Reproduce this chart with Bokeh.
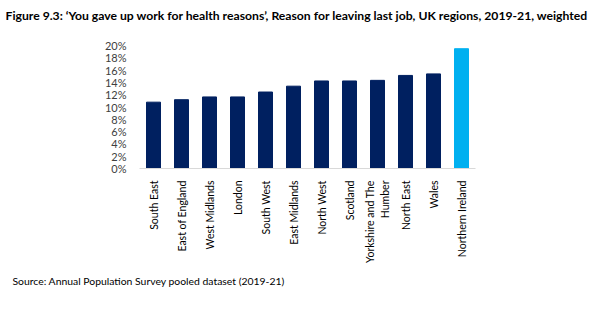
from bokeh.plotting import figure
from bokeh.models import Title, FactorRange, ColumnDataSource, NumeralTickFormatter, FixedTicker
from bokeh.embed import file_html
from bokeh.resources import INLINE
from math import pi

regions = ["South East", "East of England", "West Midlands", "London", "South West",
           "East Midlands", "North West", "Scotland", "Yorkshire and The\nHumber",
           "North East", "Wales", "Northern Ireland"]
share = [0.108, 0.112, 0.1165, 0.1165, 0.1245, 0.134, 0.1425, 0.1425, 0.1435,
         0.1515, 0.154, 0.195]
colors = ["#002060"] * 11 + ["#00B0F0"]
y_ticks = [0.0, 0.02, 0.04, 0.06, 0.08, 0.10, 0.12, 0.14, 0.16, 0.18, 0.20]

FONT = "Lato"

# frame geometry (pixels)
W, H = 602, 316
LEFT, RIGHT, TOP, BOTTOM = 139, 127, 39, 148

src = ColumnDataSource(dict(region=regions, share=share, color=colors))

p = figure(width=W, height=H, output_backend="svg", toolbar_location=None,
           x_range=FactorRange(*regions, range_padding=0), y_range=(0, 0.21),
           min_border_left=LEFT, min_border_right=RIGHT, min_border_top=TOP,
           min_border_bottom=BOTTOM)
p.outline_line_color = None
p.xgrid.grid_line_color = None
p.ygrid.grid_line_color = None

p.vbar(x="region", top="share", width=0.5, color="color", source=src)

p.yaxis.ticker = FixedTicker(ticks=y_ticks)
p.yaxis.formatter = NumeralTickFormatter(format="0%")
p.yaxis.axis_line_color = None
p.yaxis.major_tick_line_color = None
p.yaxis.minor_tick_line_color = None
p.yaxis.major_label_text_font = FONT
p.yaxis.major_label_text_font_size = "11px"
p.yaxis.major_label_text_color = "#404040"
p.yaxis.major_label_standoff = 7

p.xaxis.axis_line_color = "#D9D9D9"
p.xaxis.major_tick_line_color = None
p.xaxis.minor_tick_line_color = None
p.xaxis.major_label_orientation = pi / 2
p.xaxis.major_label_text_font = FONT
p.xaxis.major_label_text_font_size = "10.5px"
p.xaxis.major_label_text_color = "#000000"
p.xaxis.major_label_standoff = 6

# chart title, pulled left from the frame edge to the canvas margin;
# the blank second line lifts it towards the top of the page
p.title.text = ("Figure 9.3: \u2018You gave up work for health reasons\u2019, Reason for "
                "leaving last job, UK regions, 2019-21, weighted\n ")
p.title.align = "left"
p.title.offset = 5 - LEFT
p.title.standoff = 4
p.title.text_font = FONT
p.title.text_font_size = "12.2px"
p.title.text_font_style = "bold"
p.title.text_color = "#000000"

source = Title(text="Source: Annual Population Survey pooled dataset (2019-21)",
               align="left", offset=12 - LEFT, standoff=14,
               text_font=FONT, text_font_size="10.4px", text_font_style="normal",
               text_color="#000000")
p.add_layout(source, "below")

open("out.html", "w").write(file_html(p, INLINE))
